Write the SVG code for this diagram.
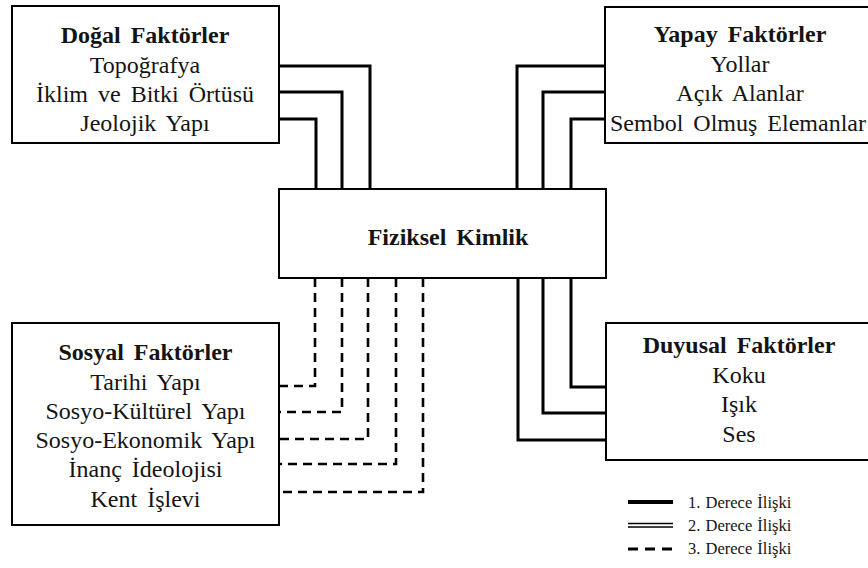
<svg xmlns="http://www.w3.org/2000/svg" width="868" height="568" viewBox="0 0 868 568">
<style>
.box{fill:#fff;stroke:#000;stroke-width:2}
.t{font-family:"Liberation Serif","Times New Roman",serif;font-size:24px;fill:#141414;text-anchor:middle;word-spacing:4px}
.b{font-weight:bold}
.c{fill:none;stroke:#000;stroke-width:3}
.d{fill:none;stroke:#000;stroke-width:2.6;stroke-dasharray:9 6}
.lg{font-family:"Liberation Serif","Times New Roman",serif;font-size:16.5px;fill:#141414;word-spacing:1px}
</style>
<rect width="868" height="568" fill="#fff"/>
<g id="connectors">
<path class="c" d="M279,66 H370 V189"/>
<path class="c" d="M279,92 H342 V189"/>
<path class="c" d="M279,119 H316 V189"/>
<path class="c" d="M605,66 H517 V189"/>
<path class="c" d="M605,92 H543 V189"/>
<path class="c" d="M605,119 H571 V189"/>
<path class="c" d="M571,278 V387 H606"/>
<path class="c" d="M543,278 V413 H606"/>
<path class="c" d="M518,278 V440 H606"/>
<path class="d" d="M315,278 V386 H279"/>
<path class="d" d="M342,278 V412 H279"/>
<path class="d" d="M368,278 V439 H279"/>
<path class="d" d="M396,278 V464 H279"/>
<path class="d" d="M423,278 V492 H279"/>
</g>
<g id="dogal">
<rect class="box" x="12" y="6" width="267" height="137"/>
<text class="t b" x="145" y="43">Doğal Faktörler</text>
<text class="t" x="145" y="72.5">Topoğrafya</text>
<text class="t" x="145" y="102">İklim ve Bitki Örtüsü</text>
<text class="t" x="145" y="131">Jeolojik Yapı</text>
</g>
<g id="yapay">
<rect class="box" x="605" y="7" width="275" height="136"/>
<text class="t b" x="740" y="42">Yapay Faktörler</text>
<text class="t" x="740" y="71.5">Yollar</text>
<text class="t" x="740" y="101">Açık Alanlar</text>
<text class="t" x="738" y="130.5">Sembol Olmuş Elemanlar</text>
</g>
<g id="fiziksel">
<rect class="box" x="279" y="189" width="327" height="89"/>
<text class="t b" x="448" y="245">Fiziksel Kimlik</text>
</g>
<g id="sosyal">
<rect class="box" x="12" y="323" width="267" height="202"/>
<text class="t b" x="145.5" y="360">Sosyal Faktörler</text>
<text class="t" x="145.5" y="390">Tarihi Yapı</text>
<text class="t" x="145.5" y="419">Sosyo-Kültürel Yapı</text>
<text class="t" x="145.5" y="448">Sosyo-Ekonomik Yapı</text>
<text class="t" x="145.5" y="477">İnanç İdeolojisi</text>
<text class="t" x="145.5" y="507">Kent İşlevi</text>
</g>
<g id="duyusal">
<rect class="box" x="606" y="323" width="275" height="137"/>
<text class="t b" x="739" y="353">Duyusal Faktörler</text>
<text class="t" x="739" y="382.5">Koku</text>
<text class="t" x="739" y="412">Işık</text>
<text class="t" x="739" y="442">Ses</text>
</g>
<g id="legend">
<line x1="628" y1="502" x2="673" y2="502" stroke="#000" stroke-width="4"/>
<line x1="628" y1="523.5" x2="673" y2="523.5" stroke="#000" stroke-width="1.6"/>
<line x1="628" y1="527" x2="673" y2="527" stroke="#000" stroke-width="1.6"/>
<line x1="628" y1="549" x2="673" y2="549" stroke="#000" stroke-width="3" stroke-dasharray="10 7"/>
<text class="lg" x="688" y="507.5">1. Derece İlişki</text>
<text class="lg" x="688" y="530.5">2. Derece İlişki</text>
<text class="lg" x="688" y="554">3. Derece İlişki</text>
</g>
</svg>
